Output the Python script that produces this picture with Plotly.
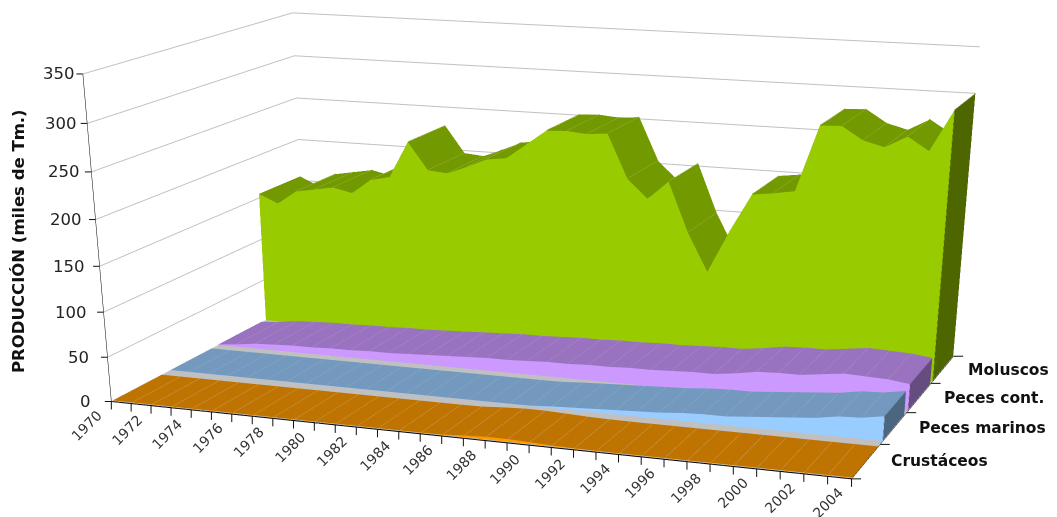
import plotly.graph_objects as go

years = list(range(1970, 2005))
moluscos = [155,145,161,165,169,164,181,186,228,197,195,204,214,217,234,251,252,250,252,203,182,203,147,104,152,195,198,202,275,276,262,256,269,255,300]
peces_cont = [1,3,6,7,8,8,9,9,10,10,11,12,13,14,15,15,16,17,17,18,18,19,19,20,21,21,24,28,29,29,32,35,34,33,30]
peces_marinos = [.3]*18 + [.5,2,3,4,5,6,7,9,10,10,12,14,16,18,22,23,27]
crustaceos = [.3]*16 + [.5,2,3,3,2,1,.5] + [.3]*12
categories = ["Crustáceos", "Peces marinos", "Peces cont.", "Moluscos"]
z_ticks = [0,50,100,150,200,250,300,350]
depth_ticks = [0,1,2,3,4]

# The reference has a long-lens look; plotly's field of view is fixed to the
# scene height, so the scene is taller than the visible window.
W, H = 1057, 2000
FF = "DejaVu Sans"
LIT = dict(ambient=1, diffuse=0, specular=0, fresnel=0, roughness=1)
SIDE_X = 2003.98

fig = go.Figure()

def ribbon(vals, d0, d1, c_front, c_top, c_side, c_line):
    n = len(years)
    I, J, K = [], [], []
    for a in range(n-1):
        I += [a, a+1]; J += [a+1, n+a+1]; K += [n+a, n+a]
    fig.add_trace(go.Mesh3d(x=years+years, y=[d0]*(2*n), z=[0]*n+list(vals), i=I, j=J, k=K,
                            color=c_front, flatshading=True, lighting=LIT, hoverinfo="skip"))
    fig.add_trace(go.Mesh3d(x=years+years, y=[d0]*n+[d1]*n, z=list(vals)+list(vals), i=I, j=J, k=K,
                            color=c_top, flatshading=True, lighting=LIT, hoverinfo="skip"))
    fig.add_trace(go.Mesh3d(x=[SIDE_X]*4, y=[d0,d1,d1,d0], z=[0,0,vals[-1],vals[-1]], i=[0,0], j=[1,2], k=[2,3],
                            color=c_side, flatshading=True, lighting=LIT, hoverinfo="skip"))
    lx, ly, lz = [], [], []
    for a in range(1, n-1):
        lx += [years[a], years[a], None]; ly += [d0, d1, None]; lz += [vals[a]+.4, vals[a]+.4, None]
    fig.add_trace(go.Scatter3d(x=lx, y=ly, z=lz, mode="lines", line=dict(color=c_line, width=1), hoverinfo="skip"))

fig.add_trace(go.Mesh3d(x=[1970,2004,2004,1970], y=[0,0,4,4], z=[.05]*4, i=[0,0], j=[1,2], k=[2,3],
                        color="#C0C0C0", lighting=LIT, hoverinfo="skip"))
ribbon(crustaceos, .03, .93, "#FF9900", "#BF7300", "#805000", "#C99A50")
ribbon(peces_marinos, 1.1, 1.92, "#99CCFF", "#7399BF", "#4D6680", "#8AA8C4")
ribbon(peces_cont, 2.06, 2.98, "#CC99FF", "#9973BF", "#664D80", "#A88BC6")
ribbon(moluscos, 3.08, 4, "#99CC00", "#739900", "#4D6600", "#93AE3E")

ann = []
def tick(x, y, z, ax, ay):
    ann.append(dict(x=x, y=y, z=z, text=" ", showarrow=True, arrowhead=0, arrowwidth=1, arrowcolor="#111",
                    ax=ax, ay=ay, standoff=0, startstandoff=0, borderpad=0, font=dict(size=1)))
for z in z_ticks:
    tick(1970, 0, z, -7, 0)
    ann.append(dict(x=1970, y=0, z=z, text=str(z), showarrow=False, xanchor="right", yanchor="middle",
                    xshift=-18 + z/350*12, font=dict(size=16.5, family=FF, color="#222")))
for y in years:
    tick(y, 0, 0, 0, 9)
for y in years[::2]:
    ann.append(dict(x=y, y=0, z=0, text=str(y), showarrow=False, xanchor="center", yanchor="middle",
                    xshift=-24, yshift=-24, textangle=-45, font=dict(size=14, family=FF, color="#333")))
for d in depth_ticks:
    tick(2004, d, 0, 10, 0)
for i, c in enumerate(categories):
    ann.append(dict(x=2004, y=i+.5, z=0, text=f"<b>{c}</b>", showarrow=False, xanchor="left", yanchor="middle",
                    xshift=23, font=dict(size=15.5, family=FF, color="#111")))

base = dict(showbackground=False, showspikes=False, showticklabels=False, title="", ticks="",
            showline=True, linecolor="black")
fig.update_layout(
    width=W, height=H, margin=dict(l=0, r=0, t=0, b=0), showlegend=False, paper_bgcolor="white",
    scene=dict(domain=dict(x=[0,1], y=[0,1]), aspectmode="manual",
               aspectratio=dict(x=1, y=0.6124, z=0.4081),
               camera=dict(eye=dict(x=1.1123, y=-3.0985, z=0.6635),
                           center=dict(x=0.0755, y=-0.2440, z=-1.0467), up=dict(x=0, y=0, z=1)),
               annotations=ann,
               xaxis=dict(range=[1970,2004], showgrid=False, linewidth=2, **base),
               yaxis=dict(range=[0,4], showgrid=False, linewidth=1, **base),
               zaxis=dict(range=[0,350], tickvals=z_ticks, gridcolor="#C0C0C0", linewidth=1, **base)))
fig.add_annotation(text="<b>PRODUCCIÓN (miles de Tm.)</b>", xref="paper", yref="paper", x=10/W, y=1-233/H,
                   xanchor="center", yanchor="middle", textangle=-90, showarrow=False,
                   font=dict(size=16.5, family=FF, color="#111"))
fig.write_html("out.html")
